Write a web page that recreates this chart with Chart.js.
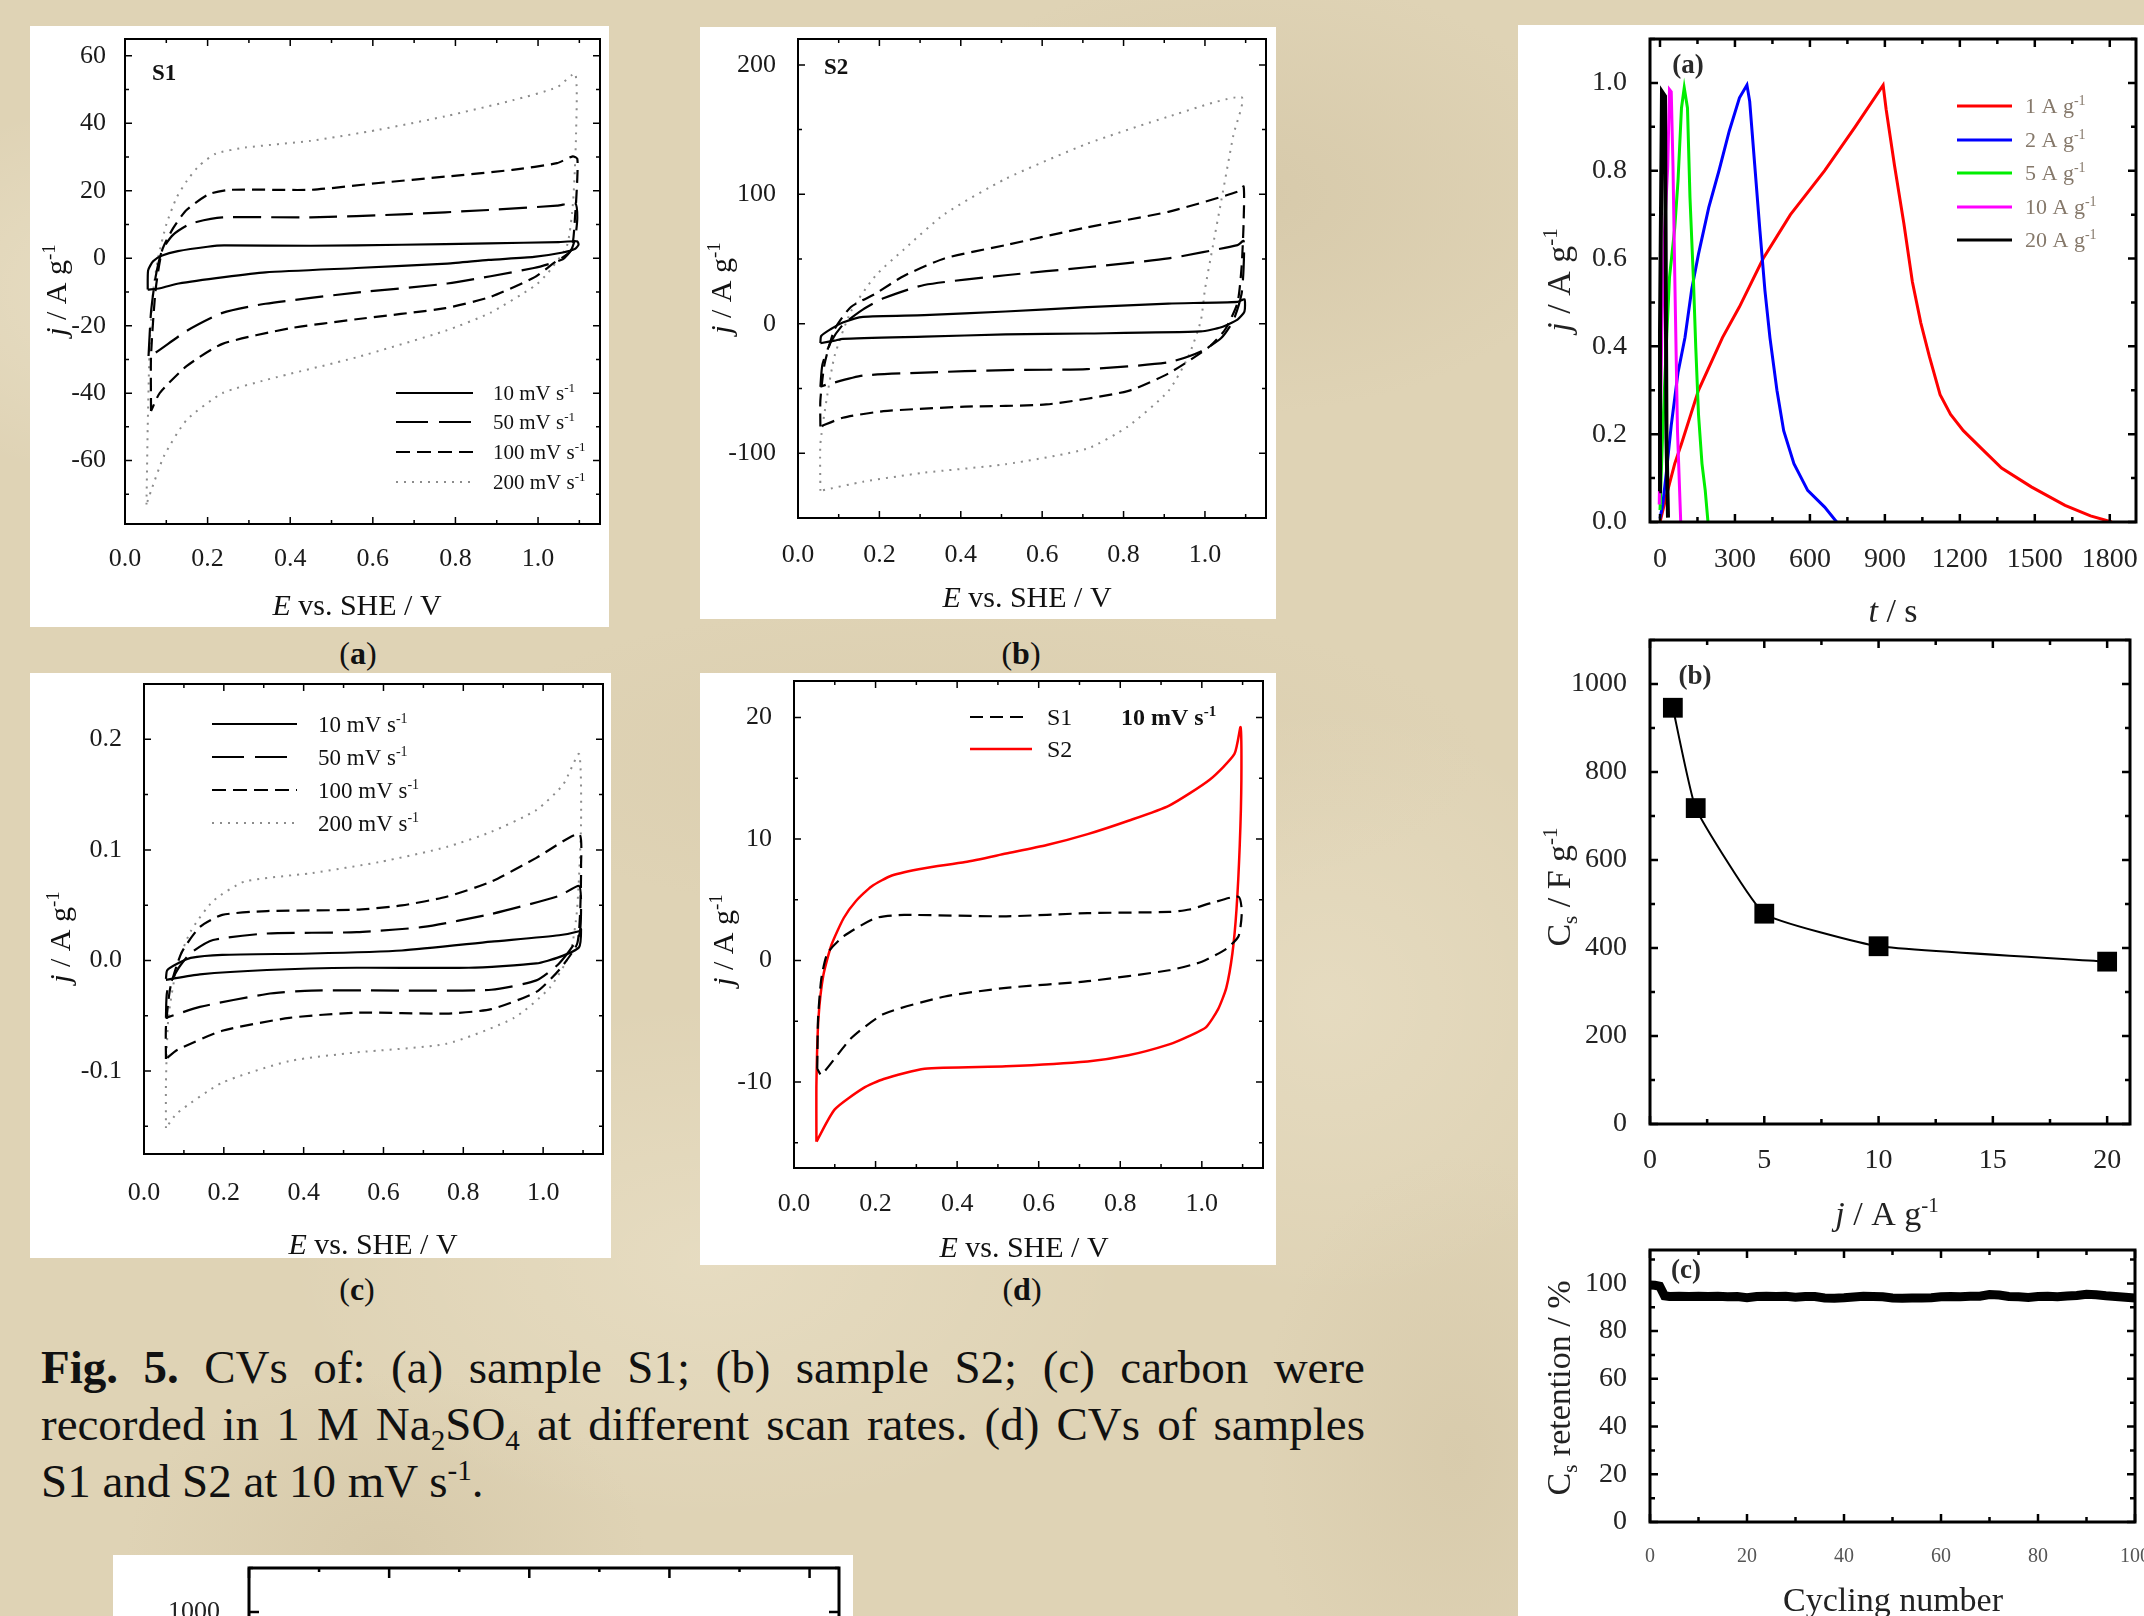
<!DOCTYPE html>
<html><head><meta charset="utf-8">
<script src="https://cdn.jsdelivr.net/npm/chart.js@4.4.1/dist/chart.umd.min.js"></script>
<style>
html,body{margin:0;padding:0;}
body{width:2144px;height:1616px;overflow:hidden;position:relative;
 background-color:#dfd3b5;
 background-image:
  radial-gradient(ellipse 320px 200px at 8% 18%, rgba(255,250,235,0.30), transparent),
  radial-gradient(ellipse 420px 260px at 33% 78%, rgba(255,250,235,0.22), transparent),
  radial-gradient(ellipse 360px 220px at 58% 12%, rgba(196,180,146,0.30), transparent),
  radial-gradient(ellipse 300px 300px at 62% 62%, rgba(255,250,235,0.20), transparent),
  radial-gradient(ellipse 260px 180px at 18% 96%, rgba(196,180,146,0.30), transparent),
  radial-gradient(ellipse 520px 160px at 45% 47%, rgba(205,190,156,0.25), transparent),
  radial-gradient(ellipse 200px 300px at 68% 90%, rgba(196,180,146,0.25), transparent);
 font-family:"Liberation Serif","Times New Roman",serif;}
.box{position:absolute;background:#fff;}
canvas{position:absolute;display:block;}
.pl{position:absolute;font-size:32px;transform:translate(-50%,-50%);color:#111;white-space:nowrap;}
#caption{position:absolute;left:41px;top:1339px;width:1324px;font-size:47px;line-height:57px;color:#111;}
#caption .cl{text-align:justify;text-align-last:justify;}
#caption .last{text-align:left;text-align-last:left;}
#caption sub,#caption sup{font-size:0.62em;line-height:0;}
</style></head>
<body>
<div class="box" style="left:30px;top:26px;width:579px;height:601px;"></div>
<div class="box" style="left:700px;top:27px;width:576px;height:592px;"></div>
<div class="box" style="left:30px;top:673px;width:581px;height:585px;"></div>
<div class="box" style="left:700px;top:673px;width:576px;height:592px;"></div>
<div class="box" style="left:1518px;top:25px;width:626px;height:1591px;"></div>
<div class="box" style="left:113px;top:1555px;width:740px;height:61px;"></div>

<canvas id="ca" width="579" height="601" style="left:30px;top:26px;"></canvas>
<canvas id="cb" width="576" height="592" style="left:700px;top:27px;"></canvas>
<canvas id="cc" width="581" height="585" style="left:30px;top:673px;"></canvas>
<canvas id="cd" width="576" height="592" style="left:700px;top:673px;"></canvas>
<canvas id="ra" width="626" height="600" style="left:1518px;top:25px;"></canvas>
<canvas id="rb" width="626" height="615" style="left:1518px;top:625px;"></canvas>
<canvas id="rc" width="626" height="376" style="left:1518px;top:1240px;"></canvas>
<canvas id="bt" width="740" height="560" style="left:113px;top:1555px;"></canvas>

<div class="pl" style="left:358px;top:653px;">(<b>a</b>)</div>
<div class="pl" style="left:1021px;top:653px;">(<b>b</b>)</div>
<div class="pl" style="left:357px;top:1289px;">(<b>c</b>)</div>
<div class="pl" style="left:1022px;top:1289px;">(<b>d</b>)</div>

<div id="caption">
 <div class="cl"><b>Fig. 5.</b> CVs of: (a) sample S1; (b) sample S2; (c) carbon were</div>
 <div class="cl">recorded in 1 M Na<sub>2</sub>SO<sub>4</sub> at different scan rates. (d) CVs of samples</div>
 <div class="cl last">S1 and S2 at 10 mV s<sup>-1</sup>.</div>
</div>

<script>
// ---------------- DATA ----------------
// common CV axis ticks
const cvTicksE = [0, 0.2, 0.4, 0.6, 0.8, 1.0];
// (a) sample S1
const aTicksJ = [-60, -40, -20, 0, 20, 40, 60];
const a10_E = [0.055, 0.056, 0.068, 0.09, 0.128, 0.2, 0.24, 0.45, 0.67, 0.88, 1.05, 1.095, 1.098, 1.09, 1.06, 0.99, 0.88, 0.78, 0.56, 0.34, 0.24, 0.13, 0.085, 0.055];
const a10_j = [-9.3, -3.6, -0.9, 0.8, 2.1, 3.4, 3.8, 3.7, 4.0, 4.4, 4.8, 5.0, 4.0, 2.8, 1.7, 0.4, -0.5, -1.6, -2.9, -4.2, -5.6, -7.5, -8.9, -9.3];
const a50_E = [0.057, 0.063, 0.074, 0.09, 0.117, 0.16, 0.236, 0.45, 0.67, 0.88, 1.046, 1.09, 1.095, 1.09, 1.08, 1.06, 0.99, 0.78, 0.56, 0.34, 0.236, 0.15, 0.074, 0.057];
const a50_j = [-29, -16, -5.6, 2.4, 7, 10.3, 12.1, 12.1, 13, 14.3, 15.6, 16.3, 12, 6, 2.4, -0.3, -2.9, -7.5, -10.2, -13.5, -16.2, -21.5, -28, -29];
const a100_E = [0.063, 0.063, 0.074, 0.09, 0.117, 0.149, 0.203, 0.257, 0.452, 0.614, 0.776, 0.938, 1.046, 1.084, 1.095, 1.095, 1.09, 1.08, 1.036, 0.992, 0.884, 0.776, 0.56, 0.398, 0.236, 0.149, 0.084, 0.063];
const a100_j = [-45.3, -29, -9.5, 2.4, 9, 14.3, 19, 20.3, 20.3, 22.3, 24.2, 26.2, 28.2, 30.2, 29.5, 23.6, 13, 2.4, -1.6, -5.6, -11.5, -14.8, -18.1, -20.8, -25.4, -32, -40, -45.3];
const a200_E = [0.052, 0.055, 0.06, 0.068, 0.08, 0.1, 0.125, 0.15, 0.18, 0.22, 0.29, 0.45, 0.614, 0.776, 0.938, 1.046, 1.09, 1.092, 1.085, 1.07, 1.025, 0.992, 0.884, 0.776, 0.56, 0.344, 0.236, 0.149, 0.095, 0.063, 0.052];
const a200_j = [-73, -50, -25, -10, 0, 10, 18, 23, 27.5, 31, 32.8, 34.8, 38.1, 42.1, 46.8, 50.7, 54.7, 36.8, 17, 3.7, -4.2, -8.2, -16.2, -21.5, -29.4, -36, -40, -48, -58.5, -69, -73];
// (b) sample S2
const bTicksJ = [-100, 0, 100, 200];
const b10_E = [0.055, 0.057, 0.08, 0.11, 0.16, 0.31, 0.51, 0.71, 0.91, 1.08, 1.097, 1.097, 1.08, 1.04, 0.99, 0.71, 0.51, 0.31, 0.11, 0.09, 0.055];
const b10_j = [-15, -9.4, -4.2, 1, 5.4, 6.7, 9.5, 12.9, 15.6, 17, 19, 9.4, 3.3, -2.7, -5.9, -7.5, -8.2, -9.9, -11.6, -13, -15];
const b50_E = [0.055, 0.06, 0.08, 0.11, 0.16, 0.21, 0.31, 0.51, 0.71, 0.91, 1.08, 1.095, 1.095, 1.09, 1.07, 1.04, 0.99, 0.91, 0.71, 0.51, 0.31, 0.16, 0.07, 0.055];
const b50_j = [-48.6, -31.5, -14.4, -0.8, 11.2, 19.7, 30, 37.5, 43.7, 50.5, 60.8, 64, 43.7, 23.2, 2.7, -11, -21.3, -29.8, -35, -35.7, -37.7, -40, -47, -48.6];
const b100_E = [0.055, 0.055, 0.065, 0.09, 0.13, 0.19, 0.26, 0.36, 0.51, 0.71, 0.91, 1.08, 1.095, 1.095, 1.09, 1.08, 1.05, 1.01, 0.91, 0.81, 0.61, 0.41, 0.21, 0.11, 0.055];
const b100_j = [-79.4, -59, -31.5, -4.2, 13, 23.2, 37, 50.5, 60.8, 74.5, 86.5, 102, 106, 78, 43.7, 16.3, -4.2, -17.9, -38.4, -52, -62.3, -64, -67.5, -72.6, -79.4];
const b200_E = [0.055, 0.055, 0.07, 0.09, 0.13, 0.19, 0.26, 0.36, 0.51, 0.71, 0.91, 1.09, 1.07, 1.04, 1.02, 1.0, 0.99, 0.96, 0.91, 0.81, 0.71, 0.51, 0.31, 0.16, 0.055];
const b200_j = [-129, -93, -59, -24.7, 9.5, 37, 57.4, 84.7, 112, 139, 160, 175, 146, 95, 61, 26.6, 2.7, -24.7, -52, -79.4, -96.5, -108.5, -115, -122, -129];
// (c) carbon
const cTicksJ = [-0.1, 0.0, 0.1, 0.2];
const c10_E = [0.055, 0.058, 0.083, 0.117, 0.196, 0.42, 0.646, 0.87, 1.04, 1.09, 1.095, 1.09, 1.04, 0.983, 0.814, 0.533, 0.308, 0.14, 0.055];
const c10_j = [-0.0167, -0.0089, -0.003, 0.0023, 0.0051, 0.0063, 0.009, 0.017, 0.0228, 0.0264, 0.0284, 0.012, 0.003, -0.0027, -0.0066, -0.0066, -0.0086, -0.0125, -0.0175];
const c50_E = [0.055, 0.058, 0.083, 0.117, 0.173, 0.308, 0.533, 0.7, 0.87, 1.04, 1.09, 1.095, 1.09, 1.04, 0.983, 0.87, 0.646, 0.42, 0.308, 0.14, 0.055];
const c50_j = [-0.0519, -0.028, -0.0089, 0.0067, 0.0185, 0.0244, 0.0256, 0.0303, 0.042, 0.0584, 0.0674, 0.05, 0.0225, -0.0027, -0.018, -0.0265, -0.0272, -0.0272, -0.0303, -0.042, -0.0519];
const c100_E = [0.055, 0.055, 0.066, 0.094, 0.14, 0.196, 0.308, 0.533, 0.646, 0.758, 0.87, 0.983, 1.09, 1.095, 1.093, 1.085, 1.04, 0.983, 0.87, 0.758, 0.533, 0.364, 0.196, 0.083, 0.055];
const c100_j = [-0.089, -0.06, -0.0245, 0.007, 0.0303, 0.0412, 0.0447, 0.0459, 0.0498, 0.0576, 0.0713, 0.0928, 0.1144, 0.085, 0.046, 0.0149, -0.0086, -0.0284, -0.044, -0.048, -0.0472, -0.0519, -0.0636, -0.081, -0.089];
const c200_E = [0.055, 0.055, 0.061, 0.083, 0.117, 0.173, 0.252, 0.42, 0.59, 0.758, 0.87, 0.983, 1.05, 1.09, 1.095, 1.085, 1.068, 1.017, 0.927, 0.758, 0.533, 0.364, 0.196, 0.083, 0.055];
const c200_j = [-0.1516, -0.1105, -0.052, -0.0047, 0.0264, 0.0537, 0.0713, 0.079, 0.089, 0.1026, 0.1163, 0.136, 0.159, 0.1867, 0.124, 0.0459, 0.007, -0.0245, -0.052, -0.0753, -0.0831, -0.091, -0.1105, -0.138, -0.1516];
// (d) S1 vs S2 at 10 mV/s
const dTicksJ = [-10, 0, 10, 20];
const dS1_E = [0.057, 0.059, 0.067, 0.082, 0.122, 0.2, 0.27, 0.52, 0.72, 0.92, 0.97, 1.02, 1.09, 1.098, 1.09, 1.06, 1.0, 0.92, 0.72, 0.52, 0.37, 0.22, 0.14, 0.067, 0.057];
const dS1_j = [-8.9, -4.75, -1.5, 0.6, 2.0, 3.5, 3.75, 3.64, 3.9, 4.0, 4.2, 4.7, 5.25, 4.0, 2.0, 0.96, -0.1, -0.8, -1.7, -2.25, -2.96, -4.4, -6.4, -9.4, -8.9];
const dS2_E = [0.055, 0.055, 0.06, 0.072, 0.092, 0.122, 0.152, 0.19, 0.24, 0.32, 0.42, 0.52, 0.62, 0.72, 0.82, 0.92, 1.02, 1.08, 1.095, 1.097, 1.093, 1.085, 1.075, 1.06, 1.04, 1.01, 0.97, 0.92, 0.82, 0.72, 0.52, 0.32, 0.22, 0.17, 0.10, 0.055];
const dS2_j = [-14.9, -10.1, -4.75, -1.2, 1.3, 3.5, 4.9, 6.1, 7.0, 7.6, 8.1, 8.8, 9.5, 10.4, 11.5, 12.75, 14.9, 17.0, 19.2, 14.9, 9.5, 4.2, 0.6, -2.25, -4.0, -5.5, -6.2, -6.9, -7.8, -8.3, -8.7, -8.9, -9.75, -10.5, -12.25, -14.9];
// right (a) galvanostatic charge-discharge
const gcdTicksT = [0, 300, 600, 900, 1200, 1500, 1800];
const gcdTicksJ = [0, 0.2, 0.4, 0.6, 0.8, 1.0];
const gcd1_t = [0, 31, 59, 86, 154, 250, 318, 413, 522, 659, 781, 893, 905, 939, 976, 1010, 1044, 1078, 1121, 1163, 1214, 1282, 1367, 1486, 1621, 1723, 1808];
const gcd1_j = [0, 0.072, 0.133, 0.178, 0.3, 0.42, 0.49, 0.6, 0.7, 0.8, 0.9, 0.995, 0.94, 0.81, 0.68, 0.547, 0.453, 0.377, 0.29, 0.245, 0.208, 0.17, 0.123, 0.08, 0.038, 0.014, 0];
const gcd2_t = [0, 11, 25, 45, 72, 100, 127, 154, 195, 236, 277, 318, 348, 359, 379, 400, 420, 440, 468, 495, 536, 591, 659, 707];
const gcd2_j = [0.008, 0.04, 0.11, 0.22, 0.34, 0.42, 0.53, 0.61, 0.716, 0.8, 0.89, 0.966, 0.995, 0.958, 0.814, 0.663, 0.527, 0.42, 0.3, 0.208, 0.133, 0.072, 0.034, 0];
const gcd5_t = [0, 11, 25, 38, 59, 72, 86, 97, 110, 120, 134, 143, 154, 168, 181, 192];
const gcd5_j = [0.027, 0.208, 0.4, 0.557, 0.67, 0.776, 0.943, 0.989, 0.943, 0.739, 0.549, 0.4, 0.246, 0.133, 0.072, 0];
const gcd10_t = [-3, 7, 18, 31, 38, 45, 52, 59, 70, 83];
const gcd10_j = [0.04, 0.43, 0.66, 0.81, 0.985, 0.98, 0.81, 0.565, 0.208, 0];
const gcd20_t = [-3, 0, 8, 20, 26, 32];
const gcd20_j = [0.07, 0.43, 0.98, 0.97, 0.19, 0.01];
// right (b) specific capacitance vs current density
const csTicksX = [0, 5, 10, 15, 20];
const csTicksY = [0, 200, 400, 600, 800, 1000];
const cs_current = [1, 2, 5, 10, 20];
const cs_value = [946, 718, 478, 404, 369];
// right (c) capacitance retention
const retTicksX = [0, 20, 40, 60, 80, 100];
const retTicksY = [0, 20, 40, 60, 80, 100];
const ret_cycle = [0, 1, 2, 3, 4, 6, 8, 10, 12, 14, 16, 18, 20, 22, 24, 26, 28, 30, 32, 34, 36, 38, 40, 42, 44, 46, 48, 50, 52, 54, 56, 58, 60, 62, 64, 66, 68, 70, 72, 74, 76, 78, 80, 82, 84, 86, 88, 90, 92, 94, 96, 98, 100];
const ret_value = [99.3, 99.2, 98.8, 94.8, 94.5, 94.6, 94.5, 94.6, 94.5, 94.6, 94.4, 94.5, 94.0, 94.5, 94.6, 94.5, 94.6, 94.2, 94.5, 94.5, 93.9, 93.8, 94.0, 94.3, 94.6, 94.5, 94.4, 93.9, 93.8, 93.9, 93.9, 94.0, 94.4, 94.5, 94.4, 94.6, 94.6, 95.3, 95.1, 94.5, 94.4, 94.1, 94.5, 94.6, 94.4, 94.7, 94.9, 95.4, 95.2, 94.8, 94.5, 94.2, 93.9];
// bottom partially visible chart
const btTicksX = [0, 1, 2, 3, 4];
const btTicksY = [0, 200, 400, 600, 800, 1000];

// ---------------- HELPERS ----------------
const SERIF = '"Liberation Serif", "Times New Roman", serif';
const DECOR = {};

function parseRich(s) {
  const segs = [], st = {i:false, b:false, sup:false, sub:false};
  s.split(/(<\/?(?:i|b|sup|sub)>)/).forEach(tok => {
    if (!tok) return;
    const m = tok.match(/^<(\/?)(i|b|sup|sub)>$/);
    if (m) { st[m[2]] = !m[1]; return; }
    segs.push({t: tok, i: st.i, b: st.b, sup: st.sup, sub: st.sub});
  });
  return segs;
}
function drawRich(ctx, str, x, y, o) {
  const segs = parseRich(str);
  const size = o.size;
  const fontOf = s => (s.i ? 'italic ' : '') + ((s.b || o.bold) ? 'bold ' : '') +
      Math.round((s.sup || s.sub) ? size * 0.62 : size) + 'px ' + SERIF;
  ctx.save();
  ctx.translate(x, y);
  if (o.rot) ctx.rotate(o.rot);
  let w = 0;
  segs.forEach(s => { ctx.font = fontOf(s); s.w = ctx.measureText(s.t).width; w += s.w; });
  let cx = o.align === 'left' ? 0 : (o.align === 'right' ? -w : -w / 2);
  ctx.fillStyle = o.color || '#111';
  ctx.textBaseline = 'alphabetic';
  const base = size * 0.33;
  segs.forEach(s => {
    ctx.font = fontOf(s);
    const dy = s.sup ? -size * 0.38 : (s.sub ? size * 0.2 : 0);
    ctx.fillText(s.t, cx, base + dy);
    cx += s.w;
  });
  ctx.restore();
}

const decorPlugin = {
  id: 'decor',
  afterDraw(chart) {
    const o = DECOR[chart.canvas.id];
    if (!o) return;
    const ctx = chart.ctx, a = chart.chartArea;
    ctx.save();
    ctx.setLineDash([]);
    ctx.strokeStyle = '#000';
    ctx.lineWidth = o.lw;
    ctx.strokeRect(a.left, a.top, a.right - a.left, a.bottom - a.top);
    ctx.lineWidth = o.tw;
    ['x', 'y'].forEach(k => {
      const s = chart.scales[k], horiz = (k === 'x');
      const vals = s.ticks.map(t => t.value);
      const minors = [];
      const st = vals[1] - vals[0];
      for (let i = 0; i < vals.length - 1; i++) minors.push((vals[i] + vals[i + 1]) / 2);
      if (vals[0] - st / 2 >= s.min - 1e-9) minors.push(vals[0] - st / 2);
      if (vals[vals.length - 1] + st / 2 <= s.max + 1e-9) minors.push(vals[vals.length - 1] + st / 2);
      ctx.beginPath();
      const mark = (v, len) => {
        const p = s.getPixelForValue(v);
        if (horiz) {
          ctx.moveTo(p, a.bottom); ctx.lineTo(p, a.bottom - len);
          ctx.moveTo(p, a.top); ctx.lineTo(p, a.top + len);
        } else {
          ctx.moveTo(a.left, p); ctx.lineTo(a.left + len, p);
          ctx.moveTo(a.right, p); ctx.lineTo(a.right - len, p);
        }
      };
      vals.forEach(v => mark(v, o.maj));
      minors.forEach(v => mark(v, o.min));
      ctx.stroke();
    });
    (o.legend || []).forEach(L => {
      ctx.beginPath();
      ctx.strokeStyle = L.color; ctx.lineWidth = L.lw;
      ctx.setLineDash(L.dash || []);
      ctx.moveTo(L.x1, L.y); ctx.lineTo(L.x2, L.y); ctx.stroke();
      ctx.setLineDash([]);
      drawRich(ctx, L.text, L.tx, L.y, {size: L.size, align: 'left', color: L.tcolor || '#111'});
    });
    (o.texts || []).forEach(T => drawRich(ctx, T.text, T.x, T.y, T));
    ctx.restore();
  }
};
Chart.register(decorPlugin);

function pts(xs, ys) { return xs.map((v, i) => ({x: v, y: ys[i]})); }
function axis(a, fit) {
  return {
    type: 'linear', min: a.min, max: a.max,
    grid: {display: false}, border: {display: false},
    ticks: {font: {family: SERIF, size: a.size}, color: a.color || '#1a1a1a', padding: a.pad,
            maxRotation: 0, autoSkip: false, callback: a.fmt},
    afterBuildTicks: s => { s.ticks = a.ticks.map(v => ({value: v})); },
    afterFit: fit
  };
}
function build(id, cfg) {
  const cv = document.getElementById(id);
  const W = cv.width, H = cv.height, P = cfg.plot;
  DECOR[id] = cfg.decor;
  return new Chart(cv, {
    type: 'scatter',
    data: {datasets: cfg.datasets},
    options: {
      responsive: false, animation: false, devicePixelRatio: 1, events: [],
      layout: {padding: {left: 0, top: P.t, right: W - P.r, bottom: 0}},
      plugins: {legend: {display: false}, tooltip: {enabled: false}},
      scales: {
        x: axis(cfg.x, s => { s.height = H - P.b; s.paddingLeft = 0; s.paddingRight = 0; }),
        y: axis(cfg.y, s => { s.width = P.l; s.paddingTop = 0; s.paddingBottom = 0; })
      }
    }
  });
}
const line = (xs, ys, style) => Object.assign({data: pts(xs, ys), showLine: true, pointRadius: 0, tension: 0.2, fill: false}, style);
const ST10 = {borderColor: '#000', borderWidth: 2.2, borderDash: []};
const ST50 = {borderColor: '#000', borderWidth: 2.2, borderDash: [28, 10]};
const ST100 = {borderColor: '#000', borderWidth: 2.2, borderDash: [13, 7]};
const ST200 = {borderColor: '#8c8c8c', borderWidth: 2, borderDash: [2, 6]};
const f1 = v => v.toFixed(1);
const f0 = v => String(v);
const cvFrame = {lw: 2, tw: 1.5, maj: 7, min: 4};
const scanLegend = (x1, x2, tx, rows, size) => [
  {x1, x2, y: rows[0], color: '#000', lw: 2.2, dash: [], tx, size, text: '10 mV s<sup>-1</sup>'},
  {x1, x2, y: rows[1], color: '#000', lw: 2.2, dash: [32, 11], tx, size, text: '50 mV s<sup>-1</sup>'},
  {x1, x2, y: rows[2], color: '#000', lw: 2.2, dash: [14, 7], tx, size, text: '100 mV s<sup>-1</sup>'},
  {x1, x2, y: rows[3], color: '#8c8c8c', lw: 2, dash: [2, 6], tx, size, text: '200 mV s<sup>-1</sup>'}
];
const XT = '<i>E</i> vs. SHE / V', YT = '<i>j</i> / A g<sup>-1</sup>';
const ROT = -Math.PI / 2;

// (a)
build('ca', {
  plot: {l: 95, t: 13, r: 570, b: 498},
  x: {min: 0, max: 1.15, ticks: cvTicksE, fmt: f1, size: 26, pad: 12},
  y: {min: -78.8, max: 65, ticks: aTicksJ, fmt: f0, size: 26, pad: 11},
  datasets: [line(a10_E, a10_j, ST10), line(a50_E, a50_j, ST50), line(a100_E, a100_j, ST100), line(a200_E, a200_j, ST200)],
  decor: Object.assign({}, cvFrame, {
    legend: scanLegend(366, 443, 463, [367, 396, 426, 456], 21),
    texts: [
      {text: XT, x: 327, y: 579, size: 30},
      {text: YT, x: 26, y: 264, size: 30, rot: ROT},
      {text: 'S1', x: 122, y: 46, size: 23, bold: true, align: 'left'}
    ]})
});
// (b)
build('cb', {
  plot: {l: 98, t: 12, r: 566, b: 491},
  x: {min: 0, max: 1.15, ticks: cvTicksE, fmt: f1, size: 26, pad: 14},
  y: {min: -150, max: 220, ticks: bTicksJ, fmt: f0, size: 26, pad: 14},
  datasets: [line(b10_E, b10_j, ST10), line(b50_E, b50_j, ST50), line(b100_E, b100_j, ST100), line(b200_E, b200_j, ST200)],
  decor: Object.assign({}, cvFrame, {
    texts: [
      {text: XT, x: 327, y: 570, size: 30},
      {text: YT, x: 21, y: 261, size: 30, rot: ROT},
      {text: 'S2', x: 124, y: 39, size: 23, bold: true, align: 'left'}
    ]})
});
// (c)
build('cc', {
  plot: {l: 114, t: 11, r: 573, b: 481},
  x: {min: 0, max: 1.15, ticks: cvTicksE, fmt: f1, size: 26, pad: 16},
  y: {min: -0.175, max: 0.25, ticks: cTicksJ, fmt: f1, size: 26, pad: 14},
  datasets: [line(c10_E, c10_j, ST10), line(c50_E, c50_j, ST50), line(c100_E, c100_j, ST100), line(c200_E, c200_j, ST200)],
  decor: Object.assign({}, cvFrame, {
    legend: scanLegend(182, 267, 288, [51, 84, 117, 150], 23),
    texts: [
      {text: XT, x: 343, y: 571, size: 30},
      {text: YT, x: 30, y: 264, size: 30, rot: ROT}
    ]})
});
// (d)
build('cd', {
  plot: {l: 94, t: 8, r: 563, b: 495},
  x: {min: 0, max: 1.15, ticks: cvTicksE, fmt: f1, size: 26, pad: 13},
  y: {min: -17.07, max: 23, ticks: dTicksJ, fmt: f0, size: 26, pad: 14},
  datasets: [line(dS1_E, dS1_j, {borderColor: '#000', borderWidth: 2.2, borderDash: [13, 7]}),
             line(dS2_E, dS2_j, {borderColor: '#ff0000', borderWidth: 2.5, borderDash: []})],
  decor: Object.assign({}, cvFrame, {
    legend: [
      {x1: 270, x2: 326, y: 44, color: '#000', lw: 2.2, dash: [13, 7], tx: 347, size: 24, text: 'S1'},
      {x1: 270, x2: 332, y: 76, color: '#ff0000', lw: 2.5, dash: [], tx: 347, size: 24, text: 'S2'}
    ],
    texts: [
      {text: XT, x: 324, y: 574, size: 30},
      {text: YT, x: 23, y: 267, size: 30, rot: ROT},
      {text: '10 mV s<sup>-1</sup>', x: 421, y: 44, size: 24, bold: true, align: 'left'}
    ]})
});

// right (a)
const rFrame = {lw: 3, tw: 2.5, maj: 8, min: 5};
const gl = (t, j, c, w) => ({data: pts(t, j), showLine: true, pointRadius: 0, tension: 0, borderColor: c, borderWidth: w, fill: false});
build('ra', {
  plot: {l: 132, t: 14, r: 618, b: 497},
  x: {min: -40, max: 1905, ticks: gcdTicksT, fmt: f0, size: 28, pad: 13, color: '#222'},
  y: {min: 0, max: 1.1, ticks: gcdTicksJ, fmt: f1, size: 28, pad: 15, color: '#222'},
  datasets: [gl(gcd20_t, gcd20_j, '#000000', 4), gl(gcd10_t, gcd10_j, '#ff00ff', 3), gl(gcd5_t, gcd5_j, '#00ee00', 3),
             gl(gcd2_t, gcd2_j, '#0000ff', 3), gl(gcd1_t, gcd1_j, '#ff0000', 3)],
  decor: Object.assign({}, rFrame, {
    legend: [
      {x1: 439, x2: 494, y: 81, color: '#ff0000', lw: 3, tx: 507, size: 22, tcolor: '#85786a', text: '1 A g<sup>-1</sup>'},
      {x1: 439, x2: 494, y: 115, color: '#0000ff', lw: 3, tx: 507, size: 22, tcolor: '#85786a', text: '2 A g<sup>-1</sup>'},
      {x1: 439, x2: 494, y: 148, color: '#00ee00', lw: 3, tx: 507, size: 22, tcolor: '#85786a', text: '5 A g<sup>-1</sup>'},
      {x1: 439, x2: 494, y: 182, color: '#ff00ff', lw: 3, tx: 507, size: 22, tcolor: '#85786a', text: '10 A g<sup>-1</sup>'},
      {x1: 439, x2: 494, y: 215, color: '#000000', lw: 3, tx: 507, size: 22, tcolor: '#85786a', text: '20 A g<sup>-1</sup>'}
    ],
    texts: [
      {text: '<i>t</i> / s', x: 375, y: 586, size: 34, color: '#222'},
      {text: YT, x: 41, y: 255, size: 34, rot: ROT, color: '#222'},
      {text: '(a)', x: 170, y: 39, size: 27, bold: true, color: '#2a2a2a'}
    ]})
});
// right (b)
build('rb', {
  plot: {l: 132, t: 15, r: 618, b: 499},
  x: {min: 0, max: 21, ticks: csTicksX, fmt: f0, size: 28, pad: 12, color: '#222'},
  y: {min: 0, max: 1100, ticks: csTicksY, fmt: f0, size: 28, pad: 15, color: '#222'},
  datasets: [{data: pts(cs_current, cs_value), showLine: true, tension: 0.12,
              borderColor: '#000', borderWidth: 2, pointStyle: 'rect', pointRadius: 14,
              pointBackgroundColor: '#000', pointBorderWidth: 0, fill: false}],
  decor: Object.assign({}, rFrame, {
    texts: [
      {text: YT, x: 369, y: 589, size: 34, color: '#222'},
      {text: 'C<sub>s</sub> / F g<sup>-1</sup>', x: 41, y: 262, size: 34, rot: ROT, color: '#222'},
      {text: '(b)', x: 177, y: 50, size: 27, bold: true, color: '#2a2a2a'}
    ]})
});
// right (c)
build('rc', {
  plot: {l: 132, t: 10, r: 617, b: 282},
  x: {min: 0, max: 100, ticks: retTicksX, fmt: f0, size: 20, pad: 15, color: '#555'},
  y: {min: 0, max: 114, ticks: retTicksY, fmt: f0, size: 28, pad: 15, color: '#222'},
  datasets: [{data: pts(ret_cycle, ret_value), showLine: true, pointRadius: 0, tension: 0,
              borderColor: '#000', borderWidth: 9, fill: false}],
  decor: Object.assign({}, rFrame, {
    texts: [
      {text: 'Cycling number', x: 375, y: 360, size: 34, color: '#222'},
      {text: 'C<sub>s</sub> retention / %', x: 41, y: 148, size: 34, rot: ROT, color: '#222'},
      {text: '(c)', x: 168, y: 29, size: 27, bold: true, color: '#2a2a2a'}
    ]})
});
// bottom partially visible chart
build('bt', {
  plot: {l: 136, t: 13, r: 726, b: 497},
  x: {min: 0, max: 4.21, ticks: btTicksX, fmt: f0, size: 26, pad: 12, color: '#222'},
  y: {min: 0, max: 1100, ticks: btTicksY, fmt: f0, size: 26, pad: 21, color: '#222'},
  datasets: [{data: [], showLine: true, pointRadius: 0}],
  decor: {lw: 3, tw: 2.5, maj: 10, min: 4}
});
</script>
</body></html>
